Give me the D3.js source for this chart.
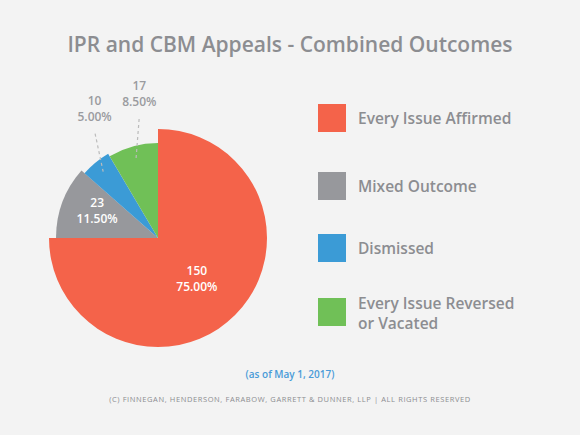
<!DOCTYPE html>
<html><head><meta charset="utf-8">
<script src="https://cdn.jsdelivr.net/npm/d3@7"></script>
<style>body{margin:0;background:#f3f3f3}svg{display:block;font-family:"Open Sans",sans-serif}</style>
</head><body><svg width="580" height="435"></svg>
<script>
var categories = ['Every Issue Affirmed', 'Mixed Outcome', 'Dismissed', 'Every Issue Reversed|or Vacated'];
var counts = [150, 23, 10, 17];
var percents = ['75.00%', '11.50%', '5.00%', '8.50%'];
var colors = ['#f4634a', '#97989c', '#3b9bd6', '#70c057'];
var radii = [109, 102, 98, 95];

var svg = d3.select('svg');
svg.append('rect').attr('width', 580).attr('height', 435).attr('fill', '#f3f3f3');
svg.append('text').attr('x', 290).attr('y', 52).attr('text-anchor', 'middle')
	.attr('font-size', 21).attr('font-weight', 600).attr('fill', '#8c8d91')
	.text('IPR and CBM Appeals - Combined Outcomes');

var cx = 158, cy = 238;
var pie = d3.pie().sort(null).value(function (d) { return d; });
var arcs = pie(counts);
var g = svg.append('g').attr('transform', 'translate(' + cx + ',' + cy + ')');
g.selectAll('path').data(arcs).enter().append('path')
	.attr('fill', function (d, i) { return colors[i]; })
	.attr('d', function (d, i) { return d3.arc().innerRadius(0).outerRadius(radii[i])(d); });

function lbl(x, y, lines, fill) {
	var t = g.append('text').attr('text-anchor', 'middle').attr('font-size', 12)
		.attr('font-weight', 600).attr('fill', fill);
	lines.forEach(function (s, k) { t.append('tspan').attr('x', x).attr('y', y + k * 16).text(s); });
}
// inside labels
var c0 = d3.arc().innerRadius(0).outerRadius(110).centroid(arcs[0]);
lbl(c0[0], c0[1] - 2, [counts[0], percents[0]], '#fff');
var c1 = d3.arc().innerRadius(0).outerRadius(128).centroid(arcs[1]);
lbl(c1[0] - 1, c1[1] - 8, [counts[1], percents[1]], '#fff');
// outside labels with dashed leaders
var shift = [null, null, [15, -38], [13, -32]];
[2, 3].forEach(function (i) {
	var a = (arcs[i].startAngle + arcs[i].endAngle) / 2;
	var p0 = [Math.sin(a) * (radii[i] - 12), -Math.cos(a) * (radii[i] - 12)];
	var lx = Math.sin(a) * (radii[i] + 25) + shift[i][0], ly0 = -Math.cos(a) * (radii[i] + 25) + shift[i][1];
	g.append('line').attr('x1', p0[0]).attr('y1', p0[1]).attr('x2', lx).attr('y2', ly0 + 26)
		.attr('stroke', '#bbb').attr('stroke-width', 1.2).attr('stroke-dasharray', '3,3');
	lbl(lx, ly0, [counts[i], percents[i]], '#9a9b9f');
});

var ly = [118, 186, 248, 312];
var leg = svg.selectAll('g.leg').data(categories).enter().append('g').attr('class', 'leg')
	.attr('transform', function (d, i) { return 'translate(318,' + ly[i] + ')'; });
leg.append('rect').attr('x', 0).attr('y', -14).attr('width', 28).attr('height', 28)
	.attr('fill', function (d, i) { return colors[i]; });
leg.each(function (d) {
	var parts = d.split('|');
	var t = d3.select(this).append('text').attr('font-size', 15.5).attr('font-weight', 600).attr('fill', '#8c8d91');
	parts.forEach(function (s, k) {
		t.append('tspan').attr('x', 40).attr('y', (parts.length > 1 ? -3 : 6) + k * 20).text(s);
	});
});

svg.append('text').attr('x', 290).attr('y', 378).attr('text-anchor', 'middle')
	.attr('font-size', 10).attr('font-weight', 600).attr('fill', '#4a9bd8').text('(as of May 1, 2017)');
svg.append('text').attr('x', 290).attr('y', 402).attr('text-anchor', 'middle')
	.attr('font-size', 7.5).attr('letter-spacing', 0.6).attr('fill', '#8c8d91')
	.text('(C) FINNEGAN, HENDERSON, FARABOW, GARRETT & DUNNER, LLP | ALL RIGHTS RESERVED');
</script></body></html>
